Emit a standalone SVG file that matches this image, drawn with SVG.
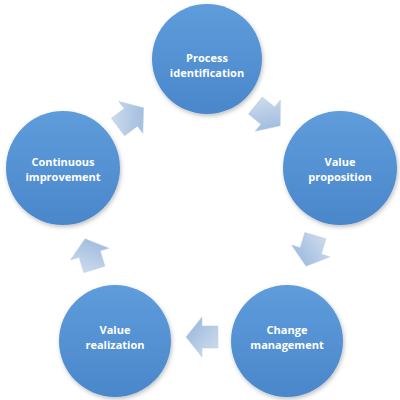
<svg xmlns="http://www.w3.org/2000/svg" width="400" height="400" viewBox="0 0 400 400">
<style>
.node circle{fill:url(#cg);filter:url(#sh)}
.node text{font-family:"Open Sans","Liberation Sans",sans-serif;font-weight:bold;font-size:11px;fill:#ffffff;text-anchor:middle}
.arr{fill:url(#ag);stroke:#b8cbe3;stroke-width:0.5}
</style>
<defs>
<linearGradient id="cg" x1="0" y1="0" x2="0" y2="1">
<stop offset="0" stop-color="#5e9cdb"/>
<stop offset="1" stop-color="#4a87cb"/>
</linearGradient>
<linearGradient id="ag" x1="0" y1="0" x2="1" y2="1">
<stop offset="0" stop-color="#d3e0ef"/>
<stop offset="1" stop-color="#93b3da"/>
</linearGradient>
<filter id="sh" x="-20%" y="-20%" width="140%" height="140%">
<feDropShadow dx="1" dy="2" stdDeviation="2" flood-color="#000" flood-opacity="0.25"/>
</filter>
<polygon id="ar" points="-15,-11 1,-11 1,-20 17,0 1,20 1,11 -15,11"/>
</defs>
<rect width="400" height="400" fill="#ffffff"/>
<g id="connectors">
<use href="#ar" class="arr" transform="translate(267,115) rotate(39)"/>
<use href="#ar" class="arr" transform="translate(311,250) rotate(107)"/>
<use href="#ar" class="arr" transform="translate(203,337) rotate(180)"/>
<use href="#ar" class="arr" transform="translate(90,255) rotate(-107)"/>
<use href="#ar" class="arr" transform="translate(130,118) rotate(-37)"/>
</g>
<g id="process-identification" class="node">
<circle cx="207" cy="59" r="55"/>
<text x="207" y="62">Process</text>
<text x="207" y="77">identification</text>
</g>
<g id="value-proposition" class="node">
<circle cx="340" cy="168" r="57"/>
<text x="340" y="166">Value</text>
<text x="340" y="181">proposition</text>
</g>
<g id="change-management" class="node">
<circle cx="287" cy="341" r="56"/>
<text x="287" y="334">Change</text>
<text x="287" y="349">management</text>
</g>
<g id="value-realization" class="node">
<circle cx="115" cy="341" r="56"/>
<text x="115" y="334">Value</text>
<text x="115" y="349">realization</text>
</g>
<g id="continuous-improvement" class="node">
<circle cx="63" cy="168" r="57"/>
<text x="63" y="166">Continuous</text>
<text x="63" y="181">improvement</text>
</g>
</svg>
